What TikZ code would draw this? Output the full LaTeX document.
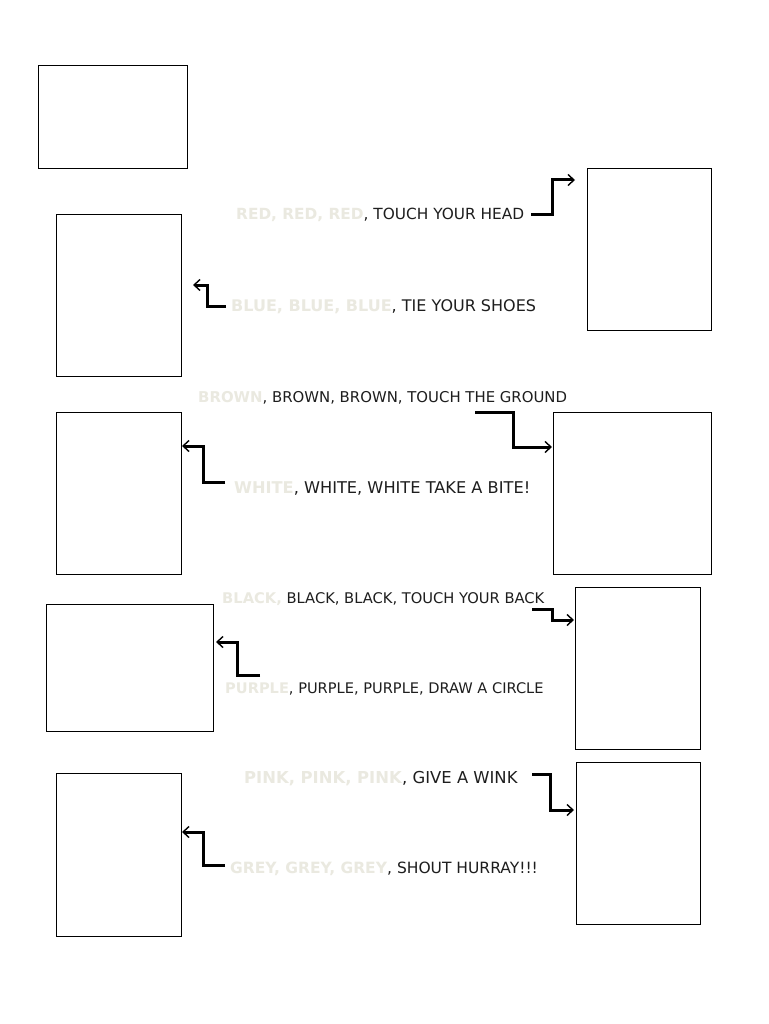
\documentclass[tikz,border=0pt]{standalone}
\usepackage{fontspec}
\setmainfont{DejaVu Sans}
\usetikzlibrary{arrows.meta}
\definecolor{pale}{RGB}{234,233,224}
\definecolor{ink}{RGB}{30,30,30}
\begin{document}
\begin{tikzpicture}[x=1pt,y=-1pt,
  box/.style={draw=black,line width=0.9pt,anchor=north west,inner sep=0pt},
  lbl/.style={anchor=base west,inner sep=0pt,font=\fontsize{#1}{17}\selectfont,text=ink},
  lbl/.default=15.3,
  conn/.style={line width=3pt,line cap=butt,-{Straight Barb[length=6pt,width=11pt,line width=1.4pt]}},
]
\useasboundingbox[fill=white] (0,0) rectangle (768,1024);
% boxes
\node[box,minimum width=149pt,minimum height=103pt] (b1) at (38,65) {};
\node[box,minimum width=125pt,minimum height=162pt] (b2) at (56,214) {};
\node[box,minimum width=124pt,minimum height=162pt] (b3) at (587,168) {};
\node[box,minimum width=125pt,minimum height=162pt] (b4) at (56,412) {};
\node[box,minimum width=158pt,minimum height=162pt] (b5) at (553,412) {};
\node[box,minimum width=167pt,minimum height=127pt] (b6) at (46,604) {};
\node[box,minimum width=125pt,minimum height=162pt] (b7) at (575,587) {};
\node[box,minimum width=125pt,minimum height=163pt] (b8) at (56,773) {};
\node[box,minimum width=124pt,minimum height=162pt] (b9) at (576,762) {};
% labels
\node[lbl=15.35] (t1) at (236,220) {\textcolor{pale}{\textbf{RED, RED, RED}}, TOUCH YOUR HEAD};
\node[lbl=16.0] (t2) at (231,311) {\textcolor{pale}{\textbf{BLUE, BLUE, BLUE}}, TIE YOUR SHOES};
\node[lbl=14.9] (t3) at (198,402) {\textcolor{pale}{\textbf{BROWN}}, BROWN, BROWN, TOUCH THE GROUND};
\node[lbl=16.2] (t4) at (234,493) {\textcolor{pale}{\textbf{WHITE}}, WHITE, WHITE TAKE A BITE!};
\node[lbl=14.7] (t5) at (222,603) {\textcolor{pale}{\textbf{BLACK,}} BLACK, BLACK, TOUCH YOUR BACK};
\node[lbl=14.6] (t6) at (225,693) {\textcolor{pale}{\textbf{PURPLE}}, PURPLE, PURPLE, DRAW A CIRCLE};
\node[lbl=16.4] (t7) at (244,783) {\textcolor{pale}{\textbf{PINK, PINK, PINK}}, GIVE A WINK};
\node[lbl=15.5] (t8) at (230,873) {\textcolor{pale}{\textbf{GREY, GREY, GREY}}, SHOUT HURRAY!!!};
% connector end points
\coordinate (s1) at (531,215); \coordinate (e1) at (575,180);
\coordinate (s2) at (226,306); \coordinate (e2) at (193,285);
\coordinate (s3) at (475,412); \coordinate (e3) at (552,447);
\coordinate (s4) at (225,482); \coordinate (e4) at (182,446);
\coordinate (s5) at (532,609); \coordinate (e5) at (574,620);
\coordinate (s6) at (260,675); \coordinate (e6) at (216,642);
\coordinate (s7) at (532,774); \coordinate (e7) at (574,810);
\coordinate (s8) at (225,865); \coordinate (e8) at (182,832);
% connectors
\draw[conn] (s1) -| (552,180) -- (e1);
\draw[conn] (s2) -| (207,285) -- (e2);
\draw[conn] (s3) -| (513,447) -- (e3);
\draw[conn] (s4) -| (203,446) -- (e4);
\draw[conn] (s5) -| (552,620) -- (e5);
\draw[conn] (s6) -| (237,642) -- (e6);
\draw[conn] (s7) -| (550,810) -- (e7);
\draw[conn] (s8) -| (203,832) -- (e8);
\end{tikzpicture}
\end{document}
